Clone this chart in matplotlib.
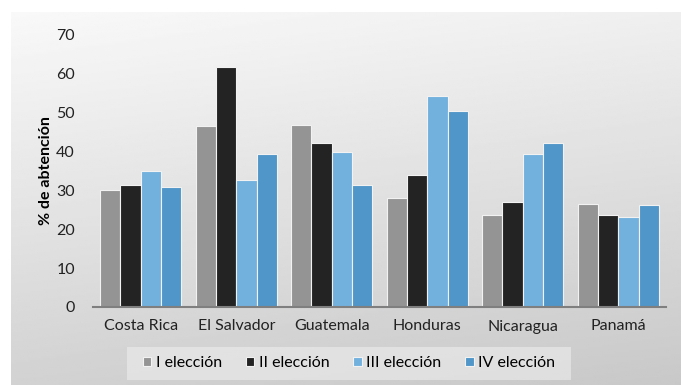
import matplotlib.pyplot as plt
import matplotlib.patches as mpatches
import numpy as np

paises = ["Costa Rica", "El Salvador", "Guatemala", "Honduras", "Nicaragua", "Panamá"]
eleccion_1 = [30.1, 46.6, 46.9, 28.0, 23.6, 26.4]
eleccion_2 = [31.3, 61.7, 42.3, 33.9, 26.9, 23.8]
eleccion_3 = [34.9, 32.8, 39.8, 54.2, 39.3, 23.1]
eleccion_4 = [31.0, 39.3, 31.3, 50.4, 42.1, 26.2]
series = [eleccion_1, eleccion_2, eleccion_3, eleccion_4]
nombres = ["I elección", "II elección", "III elección", "IV elección"]
colores = ["#949494", "#222322", "#72b1de", "#5096c9"]

plt.rcParams['font.family'] = ['Lato', 'DejaVu Sans']

fig = plt.figure(figsize=(6.81, 3.85), dpi=100)
fig.patch.set_facecolor("white")

# fondo con degradado
bg = fig.add_axes([11/681, 0, 670/681, 373/385])
yy, xx = np.mgrid[0:1:200j, 0:1:300j]
t = 0.8 * yy + 0.2 * xx
grad = 0.975 - 0.19 * t
bg.imshow(grad, cmap="gray", vmin=0, vmax=1, aspect="auto", extent=[0, 1, 1, 0])
bg.axis("off")
bg.set_zorder(-5)

# caja clara de la leyenda
bg.add_patch(mpatches.Rectangle((127/681, 5/385), 444/681, 33/385,
                                transform=fig.transFigure,
                                facecolor="#f0f0f0", alpha=0.55,
                                edgecolor="none", zorder=3))

ax = fig.add_axes([93/681, 78/385, 573/681, 272/385])
ax.set_facecolor("none")

x = np.arange(len(paises))
w = 0.2125
for i, (vals, nom, col) in enumerate(zip(series, nombres, colores)):
    ax.bar(x + (i - 1.5) * w, vals, w, color=col, edgecolor="#f2f2f2",
           linewidth=0.8, label=nom)

ax.set_xlim(-0.5, 5.5)
ax.set_ylim(0, 70)
ax.set_yticks(range(0, 71, 10))
ax.set_xticks(x)
ax.set_xticklabels(paises)
ax.tick_params(axis="both", length=0, labelsize=11.5, colors="#222222")
ax.tick_params(axis="y", pad=13)
ax.tick_params(axis="x", pad=9)
for s in ["top", "right", "left"]:
    ax.spines[s].set_visible(False)
ax.spines["bottom"].set_color("#7f7f7f")
ax.spines["bottom"].set_linewidth(1.5)
ax.set_ylabel("% de abtención", fontsize=11.5, fontweight="bold", labelpad=2)

leg = ax.legend(loc="center", bbox_to_anchor=(349/681, (385 - 363)/385),
                bbox_transform=fig.transFigure, ncol=4, frameon=False,
                fontsize=11.5, handlelength=0.55, handleheight=0.55,
                handletextpad=0.3, columnspacing=1.45, borderpad=0.45)
for h in leg.legend_handles:
    h.set_edgecolor("#f2f2f2")

fig.savefig("out.png", dpi=100)
